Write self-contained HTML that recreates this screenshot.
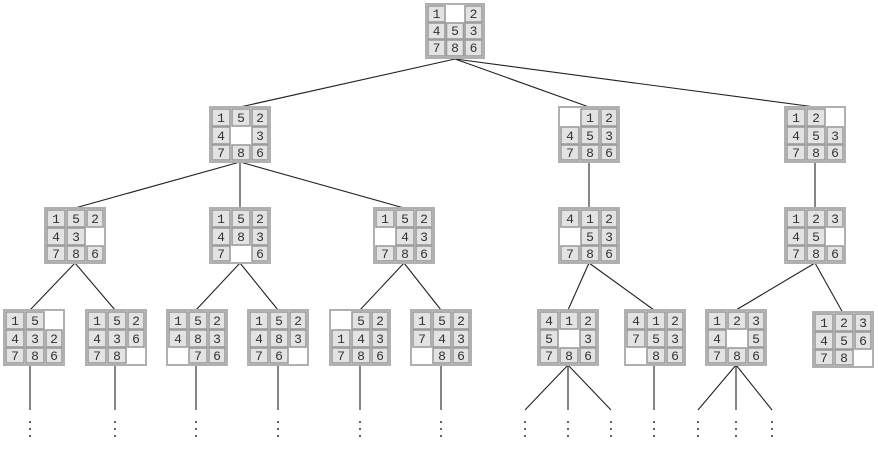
<!DOCTYPE html>
<html><head><meta charset="utf-8"><style>
html,body{margin:0;padding:0;background:#fff;}
svg{display:block}
.t rect{fill:#e3e3e3;stroke:#9c9c9c;stroke-width:1.6}
.t rect.b{fill:#fff;stroke:#b0b0b0;stroke-width:2}
.t text{font-family:"Liberation Mono",monospace;font-size:13px;fill:#333;text-anchor:middle}
line{stroke:#222;stroke-width:1.1}
circle{fill:#333}
</style></head><body>
<svg width="878" height="450" viewBox="0 0 878 450" xmlns="http://www.w3.org/2000/svg">
<line x1="455" y1="59" x2="240" y2="107"/><line x1="455" y1="59" x2="589" y2="107"/><line x1="455" y1="59" x2="815" y2="107"/>
<line x1="240" y1="162" x2="75" y2="208"/><line x1="240" y1="162" x2="240" y2="208"/><line x1="240" y1="162" x2="404" y2="208"/>
<line x1="589" y1="162" x2="589" y2="208"/><line x1="815" y1="162" x2="815" y2="208"/>
<line x1="75" y1="263" x2="30" y2="310"/><line x1="75" y1="263" x2="115" y2="310"/>
<line x1="240" y1="263" x2="196" y2="310"/><line x1="240" y1="263" x2="278" y2="310"/>
<line x1="404" y1="263" x2="360" y2="310"/><line x1="404" y1="263" x2="441" y2="310"/>
<line x1="589" y1="263" x2="568" y2="310"/><line x1="589" y1="263" x2="654" y2="310"/>
<line x1="815" y1="263" x2="736" y2="310"/><line x1="815" y1="263" x2="843" y2="313"/>
<line x1="30" y1="365" x2="30" y2="410"/><line x1="115" y1="365" x2="115" y2="410"/><line x1="196" y1="365" x2="196" y2="410"/><line x1="278" y1="365" x2="278" y2="410"/><line x1="360" y1="365" x2="360" y2="410"/><line x1="441" y1="365" x2="441" y2="410"/><line x1="654" y1="365" x2="654" y2="410"/>
<line x1="568" y1="365" x2="525" y2="410"/><line x1="568" y1="365" x2="568" y2="410"/><line x1="568" y1="365" x2="611" y2="410"/>
<line x1="736" y1="365" x2="698" y2="410"/><line x1="736" y1="365" x2="736" y2="410"/><line x1="736" y1="365" x2="772" y2="410"/>
<g>
<circle cx="30" cy="422" r="1"/><circle cx="30" cy="429" r="1"/><circle cx="30" cy="436" r="1"/>
<circle cx="115" cy="422" r="1"/><circle cx="115" cy="429" r="1"/><circle cx="115" cy="436" r="1"/>
<circle cx="196" cy="422" r="1"/><circle cx="196" cy="429" r="1"/><circle cx="196" cy="436" r="1"/>
<circle cx="278" cy="422" r="1"/><circle cx="278" cy="429" r="1"/><circle cx="278" cy="436" r="1"/>
<circle cx="360" cy="422" r="1"/><circle cx="360" cy="429" r="1"/><circle cx="360" cy="436" r="1"/>
<circle cx="441" cy="422" r="1"/><circle cx="441" cy="429" r="1"/><circle cx="441" cy="436" r="1"/>
<circle cx="525" cy="422" r="1"/><circle cx="525" cy="429" r="1"/><circle cx="525" cy="436" r="1"/>
<circle cx="568" cy="422" r="1"/><circle cx="568" cy="429" r="1"/><circle cx="568" cy="436" r="1"/>
<circle cx="611" cy="422" r="1"/><circle cx="611" cy="429" r="1"/><circle cx="611" cy="436" r="1"/>
<circle cx="654" cy="422" r="1"/><circle cx="654" cy="429" r="1"/><circle cx="654" cy="436" r="1"/>
<circle cx="698" cy="422" r="1"/><circle cx="698" cy="429" r="1"/><circle cx="698" cy="436" r="1"/>
<circle cx="736" cy="422" r="1"/><circle cx="736" cy="429" r="1"/><circle cx="736" cy="436" r="1"/>
<circle cx="772" cy="422" r="1"/><circle cx="772" cy="429" r="1"/><circle cx="772" cy="436" r="1"/>
</g>

<g class="t" transform="translate(426,4)"><rect class="b" x="0" y="0" width="58" height="54"/>
<rect x="2" y="2" width="17" height="16"/><text x="10.5" y="14">1</text>
<rect x="39" y="2" width="17" height="16"/><text x="47.5" y="14">2</text>
<rect x="2" y="19" width="17" height="16"/><text x="10.5" y="31">4</text>
<rect x="20.5" y="19" width="17" height="16"/><text x="29" y="31">5</text>
<rect x="39" y="19" width="17" height="16"/><text x="47.5" y="31">3</text>
<rect x="2" y="36" width="17" height="16"/><text x="10.5" y="48">7</text>
<rect x="20.5" y="36" width="17" height="16"/><text x="29" y="48">8</text>
<rect x="39" y="36" width="17" height="16"/><text x="47.5" y="48">6</text>
</g>

<g class="t" transform="translate(210,107)"><rect class="b" x="0" y="0" width="60" height="55"/>
<rect x="2" y="2" width="18" height="17"/><text x="11" y="15">1</text>
<rect x="22" y="2" width="18" height="17"/><text x="31" y="15">5</text>
<rect x="42" y="2" width="16" height="17"/><text x="50" y="15">2</text>
<rect x="2" y="20" width="18" height="17"/><text x="11" y="33">4</text>
<rect x="42" y="20" width="16" height="17"/><text x="50" y="33">3</text>
<rect x="2" y="38" width="18" height="15"/><text x="11" y="50">7</text>
<rect x="22" y="38" width="18" height="15"/><text x="31" y="50">8</text>
<rect x="42" y="38" width="16" height="15"/><text x="50" y="50">6</text>
</g>

<g class="t" transform="translate(559,107)"><rect class="b" x="0" y="0" width="60" height="55"/>
<rect x="22" y="2" width="18" height="17"/><text x="31" y="15">1</text>
<rect x="42" y="2" width="16" height="17"/><text x="50" y="15">2</text>
<rect x="2" y="20" width="18" height="17"/><text x="11" y="33">4</text>
<rect x="22" y="20" width="18" height="17"/><text x="31" y="33">5</text>
<rect x="42" y="20" width="16" height="17"/><text x="50" y="33">3</text>
<rect x="2" y="38" width="18" height="15"/><text x="11" y="50">7</text>
<rect x="22" y="38" width="18" height="15"/><text x="31" y="50">8</text>
<rect x="42" y="38" width="16" height="15"/><text x="50" y="50">6</text>
</g>

<g class="t" transform="translate(785,107)"><rect class="b" x="0" y="0" width="60" height="55"/>
<rect x="2" y="2" width="18" height="17"/><text x="11" y="15">1</text>
<rect x="22" y="2" width="18" height="17"/><text x="31" y="15">2</text>
<rect x="2" y="20" width="18" height="17"/><text x="11" y="33">4</text>
<rect x="22" y="20" width="18" height="17"/><text x="31" y="33">5</text>
<rect x="42" y="20" width="16" height="17"/><text x="50" y="33">3</text>
<rect x="2" y="38" width="18" height="15"/><text x="11" y="50">7</text>
<rect x="22" y="38" width="18" height="15"/><text x="31" y="50">8</text>
<rect x="42" y="38" width="16" height="15"/><text x="50" y="50">6</text>
</g>

<g class="t" transform="translate(45,208)"><rect class="b" x="0" y="0" width="60" height="55"/>
<rect x="2" y="2" width="18" height="17"/><text x="11" y="15">1</text>
<rect x="22" y="2" width="18" height="17"/><text x="31" y="15">5</text>
<rect x="42" y="2" width="16" height="17"/><text x="50" y="15">2</text>
<rect x="2" y="20" width="18" height="17"/><text x="11" y="33">4</text>
<rect x="22" y="20" width="18" height="17"/><text x="31" y="33">3</text>
<rect x="2" y="38" width="18" height="15"/><text x="11" y="50">7</text>
<rect x="22" y="38" width="18" height="15"/><text x="31" y="50">8</text>
<rect x="42" y="38" width="16" height="15"/><text x="50" y="50">6</text>
</g>

<g class="t" transform="translate(210,208)"><rect class="b" x="0" y="0" width="60" height="55"/>
<rect x="2" y="2" width="18" height="17"/><text x="11" y="15">1</text>
<rect x="22" y="2" width="18" height="17"/><text x="31" y="15">5</text>
<rect x="42" y="2" width="16" height="17"/><text x="50" y="15">2</text>
<rect x="2" y="20" width="18" height="17"/><text x="11" y="33">4</text>
<rect x="22" y="20" width="18" height="17"/><text x="31" y="33">8</text>
<rect x="42" y="20" width="16" height="17"/><text x="50" y="33">3</text>
<rect x="2" y="38" width="18" height="15"/><text x="11" y="50">7</text>
<rect x="42" y="38" width="16" height="15"/><text x="50" y="50">6</text>
</g>

<g class="t" transform="translate(374,208)"><rect class="b" x="0" y="0" width="60" height="55"/>
<rect x="2" y="2" width="18" height="17"/><text x="11" y="15">1</text>
<rect x="22" y="2" width="18" height="17"/><text x="31" y="15">5</text>
<rect x="42" y="2" width="16" height="17"/><text x="50" y="15">2</text>
<rect x="22" y="20" width="18" height="17"/><text x="31" y="33">4</text>
<rect x="42" y="20" width="16" height="17"/><text x="50" y="33">3</text>
<rect x="2" y="38" width="18" height="15"/><text x="11" y="50">7</text>
<rect x="22" y="38" width="18" height="15"/><text x="31" y="50">8</text>
<rect x="42" y="38" width="16" height="15"/><text x="50" y="50">6</text>
</g>

<g class="t" transform="translate(559,208)"><rect class="b" x="0" y="0" width="60" height="55"/>
<rect x="2" y="2" width="18" height="17"/><text x="11" y="15">4</text>
<rect x="22" y="2" width="18" height="17"/><text x="31" y="15">1</text>
<rect x="42" y="2" width="16" height="17"/><text x="50" y="15">2</text>
<rect x="22" y="20" width="18" height="17"/><text x="31" y="33">5</text>
<rect x="42" y="20" width="16" height="17"/><text x="50" y="33">3</text>
<rect x="2" y="38" width="18" height="15"/><text x="11" y="50">7</text>
<rect x="22" y="38" width="18" height="15"/><text x="31" y="50">8</text>
<rect x="42" y="38" width="16" height="15"/><text x="50" y="50">6</text>
</g>

<g class="t" transform="translate(785,208)"><rect class="b" x="0" y="0" width="60" height="55"/>
<rect x="2" y="2" width="18" height="17"/><text x="11" y="15">1</text>
<rect x="22" y="2" width="18" height="17"/><text x="31" y="15">2</text>
<rect x="42" y="2" width="16" height="17"/><text x="50" y="15">3</text>
<rect x="2" y="20" width="18" height="17"/><text x="11" y="33">4</text>
<rect x="22" y="20" width="18" height="17"/><text x="31" y="33">5</text>
<rect x="2" y="38" width="18" height="15"/><text x="11" y="50">7</text>
<rect x="22" y="38" width="18" height="15"/><text x="31" y="50">8</text>
<rect x="42" y="38" width="16" height="15"/><text x="50" y="50">6</text>
</g>

<g class="t" transform="translate(4,310)"><rect class="b" x="0" y="0" width="60" height="55"/>
<rect x="2" y="2" width="18" height="17"/><text x="11" y="15">1</text>
<rect x="22" y="2" width="18" height="17"/><text x="31" y="15">5</text>
<rect x="2" y="20" width="18" height="17"/><text x="11" y="33">4</text>
<rect x="22" y="20" width="18" height="17"/><text x="31" y="33">3</text>
<rect x="42" y="20" width="16" height="17"/><text x="50" y="33">2</text>
<rect x="2" y="38" width="18" height="15"/><text x="11" y="50">7</text>
<rect x="22" y="38" width="18" height="15"/><text x="31" y="50">8</text>
<rect x="42" y="38" width="16" height="15"/><text x="50" y="50">6</text>
</g>

<g class="t" transform="translate(86,310)"><rect class="b" x="0" y="0" width="60" height="55"/>
<rect x="2" y="2" width="18" height="17"/><text x="11" y="15">1</text>
<rect x="22" y="2" width="18" height="17"/><text x="31" y="15">5</text>
<rect x="42" y="2" width="16" height="17"/><text x="50" y="15">2</text>
<rect x="2" y="20" width="18" height="17"/><text x="11" y="33">4</text>
<rect x="22" y="20" width="18" height="17"/><text x="31" y="33">3</text>
<rect x="42" y="20" width="16" height="17"/><text x="50" y="33">6</text>
<rect x="2" y="38" width="18" height="15"/><text x="11" y="50">7</text>
<rect x="22" y="38" width="18" height="15"/><text x="31" y="50">8</text>
</g>

<g class="t" transform="translate(167,310)"><rect class="b" x="0" y="0" width="60" height="55"/>
<rect x="2" y="2" width="18" height="17"/><text x="11" y="15">1</text>
<rect x="22" y="2" width="18" height="17"/><text x="31" y="15">5</text>
<rect x="42" y="2" width="16" height="17"/><text x="50" y="15">2</text>
<rect x="2" y="20" width="18" height="17"/><text x="11" y="33">4</text>
<rect x="22" y="20" width="18" height="17"/><text x="31" y="33">8</text>
<rect x="42" y="20" width="16" height="17"/><text x="50" y="33">3</text>
<rect x="22" y="38" width="18" height="15"/><text x="31" y="50">7</text>
<rect x="42" y="38" width="16" height="15"/><text x="50" y="50">6</text>
</g>

<g class="t" transform="translate(248,310)"><rect class="b" x="0" y="0" width="60" height="55"/>
<rect x="2" y="2" width="18" height="17"/><text x="11" y="15">1</text>
<rect x="22" y="2" width="18" height="17"/><text x="31" y="15">5</text>
<rect x="42" y="2" width="16" height="17"/><text x="50" y="15">2</text>
<rect x="2" y="20" width="18" height="17"/><text x="11" y="33">4</text>
<rect x="22" y="20" width="18" height="17"/><text x="31" y="33">8</text>
<rect x="42" y="20" width="16" height="17"/><text x="50" y="33">3</text>
<rect x="2" y="38" width="18" height="15"/><text x="11" y="50">7</text>
<rect x="22" y="38" width="18" height="15"/><text x="31" y="50">6</text>
</g>

<g class="t" transform="translate(330,310)"><rect class="b" x="0" y="0" width="60" height="55"/>
<rect x="22" y="2" width="18" height="17"/><text x="31" y="15">5</text>
<rect x="42" y="2" width="16" height="17"/><text x="50" y="15">2</text>
<rect x="2" y="20" width="18" height="17"/><text x="11" y="33">1</text>
<rect x="22" y="20" width="18" height="17"/><text x="31" y="33">4</text>
<rect x="42" y="20" width="16" height="17"/><text x="50" y="33">3</text>
<rect x="2" y="38" width="18" height="15"/><text x="11" y="50">7</text>
<rect x="22" y="38" width="18" height="15"/><text x="31" y="50">8</text>
<rect x="42" y="38" width="16" height="15"/><text x="50" y="50">6</text>
</g>

<g class="t" transform="translate(411,310)"><rect class="b" x="0" y="0" width="60" height="55"/>
<rect x="2" y="2" width="18" height="17"/><text x="11" y="15">1</text>
<rect x="22" y="2" width="18" height="17"/><text x="31" y="15">5</text>
<rect x="42" y="2" width="16" height="17"/><text x="50" y="15">2</text>
<rect x="2" y="20" width="18" height="17"/><text x="11" y="33">7</text>
<rect x="22" y="20" width="18" height="17"/><text x="31" y="33">4</text>
<rect x="42" y="20" width="16" height="17"/><text x="50" y="33">3</text>
<rect x="22" y="38" width="18" height="15"/><text x="31" y="50">8</text>
<rect x="42" y="38" width="16" height="15"/><text x="50" y="50">6</text>
</g>

<g class="t" transform="translate(538,310)"><rect class="b" x="0" y="0" width="60" height="55"/>
<rect x="2" y="2" width="18" height="17"/><text x="11" y="15">4</text>
<rect x="22" y="2" width="18" height="17"/><text x="31" y="15">1</text>
<rect x="42" y="2" width="16" height="17"/><text x="50" y="15">2</text>
<rect x="2" y="20" width="18" height="17"/><text x="11" y="33">5</text>
<rect x="42" y="20" width="16" height="17"/><text x="50" y="33">3</text>
<rect x="2" y="38" width="18" height="15"/><text x="11" y="50">7</text>
<rect x="22" y="38" width="18" height="15"/><text x="31" y="50">8</text>
<rect x="42" y="38" width="16" height="15"/><text x="50" y="50">6</text>
</g>

<g class="t" transform="translate(625,310)"><rect class="b" x="0" y="0" width="60" height="55"/>
<rect x="2" y="2" width="18" height="17"/><text x="11" y="15">4</text>
<rect x="22" y="2" width="18" height="17"/><text x="31" y="15">1</text>
<rect x="42" y="2" width="16" height="17"/><text x="50" y="15">2</text>
<rect x="2" y="20" width="18" height="17"/><text x="11" y="33">7</text>
<rect x="22" y="20" width="18" height="17"/><text x="31" y="33">5</text>
<rect x="42" y="20" width="16" height="17"/><text x="50" y="33">3</text>
<rect x="22" y="38" width="18" height="15"/><text x="31" y="50">8</text>
<rect x="42" y="38" width="16" height="15"/><text x="50" y="50">6</text>
</g>

<g class="t" transform="translate(706,310)"><rect class="b" x="0" y="0" width="60" height="55"/>
<rect x="2" y="2" width="18" height="17"/><text x="11" y="15">1</text>
<rect x="22" y="2" width="18" height="17"/><text x="31" y="15">2</text>
<rect x="42" y="2" width="16" height="17"/><text x="50" y="15">3</text>
<rect x="2" y="20" width="18" height="17"/><text x="11" y="33">4</text>
<rect x="42" y="20" width="16" height="17"/><text x="50" y="33">5</text>
<rect x="2" y="38" width="18" height="15"/><text x="11" y="50">7</text>
<rect x="22" y="38" width="18" height="15"/><text x="31" y="50">8</text>
<rect x="42" y="38" width="16" height="15"/><text x="50" y="50">6</text>
</g>

<g class="t" transform="translate(813,312)"><rect class="b" x="0" y="0" width="60" height="55"/>
<rect x="2" y="2" width="18" height="17"/><text x="11" y="15">1</text>
<rect x="22" y="2" width="18" height="17"/><text x="31" y="15">2</text>
<rect x="42" y="2" width="16" height="17"/><text x="50" y="15">3</text>
<rect x="2" y="20" width="18" height="17"/><text x="11" y="33">4</text>
<rect x="22" y="20" width="18" height="17"/><text x="31" y="33">5</text>
<rect x="42" y="20" width="16" height="17"/><text x="50" y="33">6</text>
<rect x="2" y="38" width="18" height="15"/><text x="11" y="50">7</text>
<rect x="22" y="38" width="18" height="15"/><text x="31" y="50">8</text>
</g>
</svg>
</body></html>
